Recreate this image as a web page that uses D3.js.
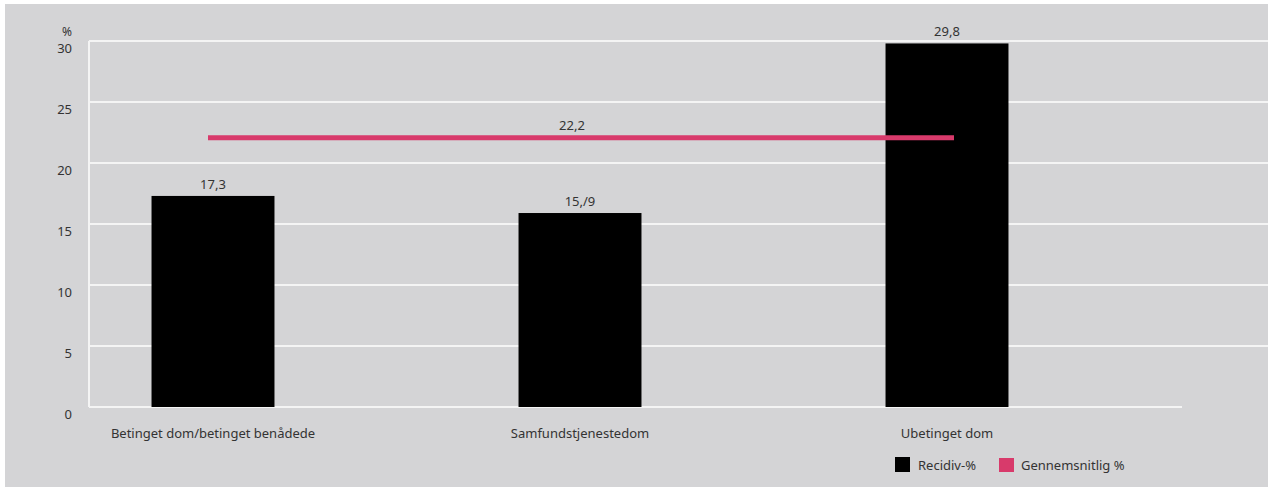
<!DOCTYPE html>
<html>
<head>
<meta charset="utf-8">
<script src="https://cdn.jsdelivr.net/npm/d3@7"></script>
<style>
	body { margin: 0; background: #ffffff; }
	text { font-family: "Noto Sans", sans-serif; fill: #333333; }
</style>
</head>
<body>
<div id="canvas"></div>
<script>
var categories = ["Betinget dom/betinget benådede", "Samfundstjenestedom", "Ubetinget dom"];
var recidiv = [17.3, 15.9, 29.8];
var valueLabels = ["17,3", "15,/9", "29,8"];
var average = 22.2;
var averageLabel = "22,2";
var yTicks = [0, 5, 10, 15, 20, 25, 30];
var legendItems = ["Recidiv-%", "Gennemsnitlig %"];

var w = 1269, h = 488;
var BAR_COLOR = "#000000";
var LINE_COLOR = "#d83a6b";

var svg = d3.select("#canvas")
	.append("svg")
	.attr("width", w)
	.attr("height", h);

// grey panel
svg.append("rect")
	.attr("x", 5)
	.attr("y", 4)
	.attr("width", 1263)
	.attr("height", 483)
	.attr("fill", "#d4d4d6");

var yScale = d3.scaleLinear()
	.domain([0, 30])
	.range([407, 41]);

var xScale = d3.scaleBand()
	.domain(categories)
	.range([29.5, 1130.5])
	.paddingInner(0.665)
	.paddingOuter(0.3325);

// gridlines
svg.selectAll(".grid")
	.data(yTicks)
	.enter()
	.append("line")
	.attr("class", "grid")
	.attr("x1", 89)
	.attr("x2", function(d){ return d === 0 ? 1182 : 1268; })
	.attr("y1", function(d){ return yScale(d); })
	.attr("y2", function(d){ return yScale(d); })
	.attr("stroke", "#f4f4f4")
	.attr("stroke-width", 2);

svg.append("line")
	.attr("x1", 89)
	.attr("x2", 89)
	.attr("y1", yScale(30))
	.attr("y2", yScale(0))
	.attr("stroke", "#f4f4f4")
	.attr("stroke-width", 2);

// y tick labels
svg.selectAll(".ytick")
	.data(yTicks)
	.enter()
	.append("text")
	.attr("class", "ytick")
	.attr("x", 72)
	.attr("y", function(d){ return yScale(d) + 12; })
	.attr("text-anchor", "end")
	.attr("font-size", 13)
	.text(function(d){ return d; });

svg.append("text")
	.attr("x", 72)
	.attr("y", 36)
	.attr("text-anchor", "end")
	.attr("font-size", 12)
	.text("%");

// bars
svg.selectAll(".bar")
	.data(recidiv)
	.enter()
	.append("rect")
	.attr("class", "bar")
	.attr("x", function(d, i){ return xScale(categories[i]); })
	.attr("y", function(d){ return yScale(d); })
	.attr("width", xScale.bandwidth())
	.attr("height", function(d){ return yScale(0) - yScale(d); })
	.attr("fill", BAR_COLOR);

svg.selectAll(".barLabel")
	.data(recidiv)
	.enter()
	.append("text")
	.attr("class", "barLabel")
	.attr("x", function(d, i){ return xScale(categories[i]) + xScale.bandwidth() / 2; })
	.attr("y", function(d){ return yScale(d) - 7; })
	.attr("text-anchor", "middle")
	.attr("font-size", 13)
	.text(function(d, i){ return valueLabels[i]; });

// category labels
svg.selectAll(".catLabel")
	.data(categories)
	.enter()
	.append("text")
	.attr("class", "catLabel")
	.attr("x", function(d){ return xScale(d) + xScale.bandwidth() / 2; })
	.attr("y", 438)
	.attr("text-anchor", "middle")
	.attr("font-size", 13)
	.text(function(d){ return d; });

// average line
var lineStart = xScale(categories[0]) + xScale.bandwidth() / 2 - 5;
var lineEnd = xScale(categories[2]) + xScale.bandwidth() / 2 + 7;
svg.append("line")
	.attr("x1", lineStart)
	.attr("x2", lineEnd)
	.attr("y1", yScale(average) + 1.5)
	.attr("y2", yScale(average) + 1.5)
	.attr("stroke", LINE_COLOR)
	.attr("stroke-width", 5);

svg.append("text")
	.attr("x", xScale(categories[1]) + xScale.bandwidth() / 2 - 8)
	.attr("y", yScale(average) - 6)
	.attr("text-anchor", "middle")
	.attr("font-size", 13)
	.text(averageLabel);

// legend
var legendX = [895, 999];
var legend = svg.selectAll(".legend")
	.data(legendItems)
	.enter()
	.append("g")
	.attr("class", "legend")
	.attr("transform", function(d, i){ return "translate(" + legendX[i] + ", 457)"; });

legend.append("rect")
	.attr("x", 0)
	.attr("y", function(d, i){ return i === 0 ? 0 : 1; })
	.attr("width", 15)
	.attr("height", function(d, i){ return i === 0 ? 15 : 14; })
	.attr("fill", function(d, i){ return i === 0 ? BAR_COLOR : LINE_COLOR; });

legend.append("text")
	.attr("x", function(d, i){ return i === 0 ? 23 : 22; })
	.attr("y", 13)
	.attr("font-size", 13)
	.text(function(d){ return d; });
</script>
</body>
</html>
